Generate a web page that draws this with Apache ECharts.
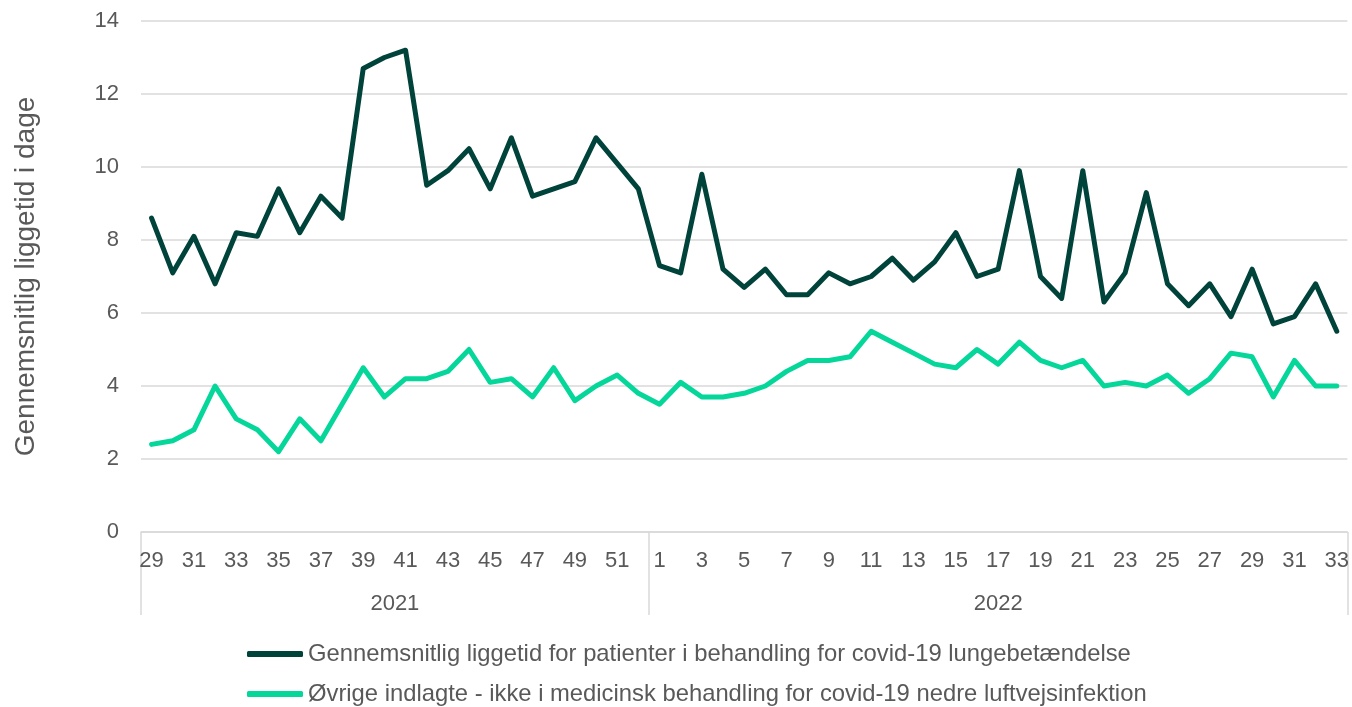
<!DOCTYPE html>
<html>
<head>
<meta charset="utf-8">
<script src="https://cdn.jsdelivr.net/npm/echarts@6/dist/echarts.min.js"></script>
<style>
  html, body { margin: 0; padding: 0; background: #fff; }
  #chart { width: 1352px; height: 707px; }
</style>
</head>
<body>
<div id="chart"></div>
<script>
// uger: 2021 uge 29-52, 2022 uge 1-33
const weeks2021 = [29, 30, 31, 32, 33, 34, 35, 36, 37, 38, 39, 40, 41, 42, 43, 44, 45, 46, 47, 48, 49, 50, 51, 52]
const weeks2022 = [1, 2, 3, 4, 5, 6, 7, 8, 9, 10, 11, 12, 13, 14, 15, 16, 17, 18, 19, 20, 21, 22, 23, 24, 25, 26, 27, 28, 29, 30, 31, 32, 33]
const years = ['2021', '2022']

// liggetid, covid-19 lungebetændelse
const covidPneumonia = [
  8.6, 7.1, 8.1, 6.8, 8.2, 8.1, 9.4, 8.2, 9.2, 8.6, 12.7, 13.0, 13.2, 9.5, 9.9, 10.5, 9.4, 10.8, 9.2, 9.4, 9.6, 10.8, 10.1, 9.4,
  7.3, 7.1, 9.8, 7.2, 6.7, 7.2, 6.5, 6.5, 7.1, 6.8, 7.0, 7.5, 6.9, 7.4, 8.2, 7.0, 7.2, 9.9, 7.0, 6.4, 9.9, 6.3, 7.1, 9.3, 6.8, 6.2, 6.8, 5.9, 7.2, 5.7, 5.9, 6.8, 5.5
]
// øvrige indlagte
const otherAdmitted = [
  2.4, 2.5, 2.8, 4.0, 3.1, 2.8, 2.2, 3.1, 2.5, 3.5, 4.5, 3.7, 4.2, 4.2, 4.4, 5.0, 4.1, 4.2, 3.7, 4.5, 3.6, 4.0, 4.3, 3.8,
  3.5, 4.1, 3.7, 3.7, 3.8, 4.0, 4.4, 4.7, 4.7, 4.8, 5.5, 5.2, 4.9, 4.6, 4.5, 5.0, 4.6, 5.2, 4.7, 4.5, 4.7, 4.0, 4.1, 4.0, 4.3, 3.8, 4.2, 4.9, 4.8, 3.7, 4.7, 4.0, 4.0
]

const seriesNames = [
  'Gennemsnitlig liggetid for patienter i behandling for covid-19 lungebetændelse',
  'Øvrige indlagte - ikke i medicinsk behandling for covid-19 nedre luftvejsinfektion'
]
const colors = ['#00433a', '#05d69a']

const weekLabels = weeks2021.concat(weeks2022).map(String)
// år-aksen: etiket midt i hver blok
const yearLabels = weekLabels.map(() => '')
const mid2021 = weeks2021.length / 2 - 1
const mid2022 = weeks2021.length + Math.floor(weeks2022.length / 2)
yearLabels[mid2021] = { value: years[0], textStyle: { padding: [0, 0, 0, 21] } }
yearLabels[mid2022] = years[1]

const font = 'Liberation Sans, Arial, sans-serif'
const textColor = '#595959'
const gridColor = '#d9d9d9'

// en legend pr. serie, så de står under hinanden
const legends = seriesNames.map((name, i) => ({
  left: 242,
  top: 637 + i * 40,
  itemWidth: 56,
  itemHeight: 6,
  icon: 'roundRect',
  textStyle: { fontSize: 23.8, color: textColor, fontFamily: font },
  data: [name]
}))

const chart = echarts.init(document.getElementById('chart'))
chart.setOption({
  animation: false,
  textStyle: { fontFamily: font },
  grid: { left: 141, right: 3, top: 21, bottom: 175 },
  legend: legends,
  xAxis: [
    {
      type: 'category',
      data: weekLabels,
      axisLine: { lineStyle: { color: gridColor, width: 1.5 } },
      axisTick: { show: false },
      axisLabel: { interval: 1, margin: 18, fontSize: 22, color: textColor, fontFamily: font }
    },
    {
      type: 'category',
      data: yearLabels,
      position: 'bottom',
      axisLine: { show: false },
      axisTick: {
        show: true,
        length: 83,
        interval: (i) => i === 0 || i === weeks2021.length,
        lineStyle: { color: gridColor, width: 1.5 }
      },
      axisLabel: { interval: 0, margin: 61, fontSize: 22, color: textColor, fontFamily: font }
    }
  ],
  yAxis: {
    type: 'value',
    min: 0,
    max: 14,
    interval: 2,
    name: 'Gennemsnitlig liggetid i dage',
    nameLocation: 'middle',
    nameGap: 101,
    nameTextStyle: { fontSize: 28, color: textColor, fontFamily: font },
    axisLine: { show: false },
    axisTick: { show: false },
    axisLabel: { margin: 22, fontSize: 22, color: textColor, fontFamily: font },
    splitLine: { lineStyle: { color: gridColor, width: 1.5 } }
  },
  series: seriesNames.map((name, i) => ({
    name: name,
    type: 'line',
    data: i === 0 ? covidPneumonia : otherAdmitted,
    symbol: 'none',
    lineStyle: { color: colors[i], width: 5, cap: 'round', join: 'round' },
    itemStyle: { color: colors[i] }
  }))
})
</script>
</body>
</html>
